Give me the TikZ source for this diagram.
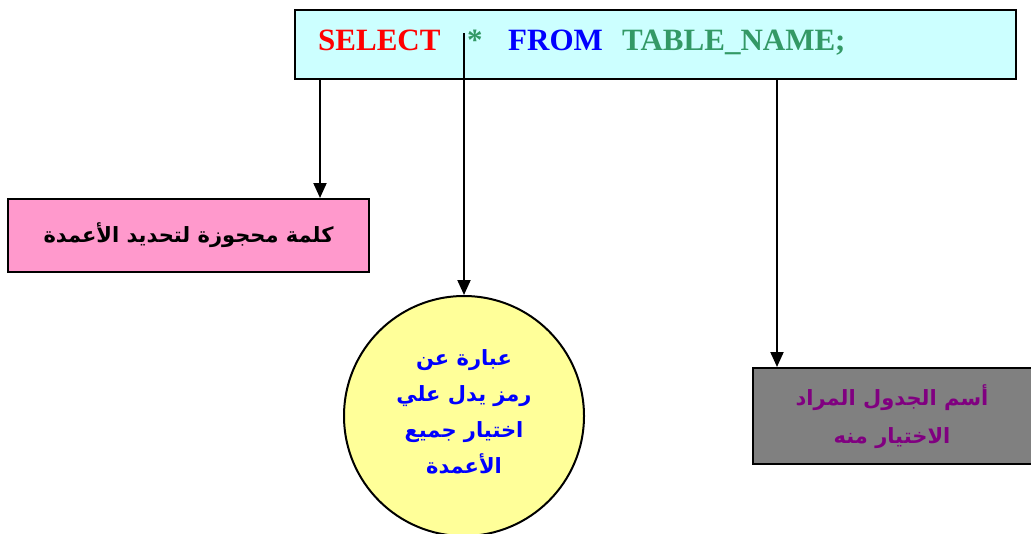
\documentclass[tikz,border=0pt]{standalone}
\usepackage{fontspec}
\setmainfont{Liberation Serif}
\newfontfamily\arabicfont[Script=Arabic]{DejaVu Sans}
\TeXXeTstate=1
\usetikzlibrary{arrows.meta}
\definecolor{cyanfill}{HTML}{CCFFFF}
\definecolor{pinkfill}{HTML}{FF99CC}
\definecolor{yellowfill}{HTML}{FFFF99}
\definecolor{greyfill}{HTML}{808080}
\definecolor{sqlgreen}{HTML}{339966}
\definecolor{labelpurple}{HTML}{800080}
\tikzset{
  box/.style={draw=black, line width=2pt, inner sep=0pt},
  sqlword/.style={font=\bfseries\fontsize{31}{33}\selectfont, inner sep=0pt, anchor=base west},
  arlabel/.style={font=\arabicfont\bfseries\fontsize{21}{36}\selectfont, align=center},
  arr/.style={line width=2pt, -{Triangle[length=15pt,width=13pt]}}
}
\begin{document}
\begin{tikzpicture}[x=1pt, y=-1pt]
\useasboundingbox (0,0) rectangle (1031,533);
\clip (0,0) rectangle (1031,533);

% SQL statement
\node[box, fill=cyanfill, minimum width=721pt, minimum height=69pt] (stmt) at (655.5,44.5) {};
\node[sqlword, text=red] (kwselect) at (318,50) {SELECT};
\node[sqlword, text=sqlgreen] (star) at (467,50) {*};
\node[sqlword, text=blue] (kwfrom) at (508,50) {FROM};
\node[sqlword, text=sqlgreen] (tname) at (622,50) {TABLE\_NAME;};

% explanations
\node[box, fill=pinkfill, minimum width=361pt, minimum height=73pt] (pink) at (188.5,235.5)
  {\arabicfont\bfseries\fontsize{21}{24}\selectfont\beginR كلمة محجوزة لتحديد الأعمدة\endR};
\node[box, circle, fill=yellowfill, minimum size=240pt] (circ) at (464,416) {};
\node[arlabel, text=blue] (circtext) at (464,412)
  {\beginR عبارة  عن\endR\\\beginR رمز يدل علي\endR\\\beginR اختيار جميع\endR\\\beginR الأعمدة\endR};
\node[box, fill=greyfill, minimum width=292pt, minimum height=96pt] (grey) at (899,416) {};
\node[arlabel, text=labelpurple, font=\arabicfont\bfseries\fontsize{21}{38}\selectfont] (greytext) at (892,417)
  {\beginR أسم  الجدول المراد\endR\\\beginR الاختيار منه\endR};

% connectors
\coordinate (xa) at (320,0);
\coordinate (xb) at (464,0);
\coordinate (xc) at (777,0);
\coordinate (startb) at (464,33);
\draw[arr] (stmt.south -| xa) -- (pink.north -| xa);
\draw[arr] (startb) -- (circ.north);
\draw[arr] (stmt.south -| xc) -- (grey.north -| xc);
\end{tikzpicture}
\end{document}
